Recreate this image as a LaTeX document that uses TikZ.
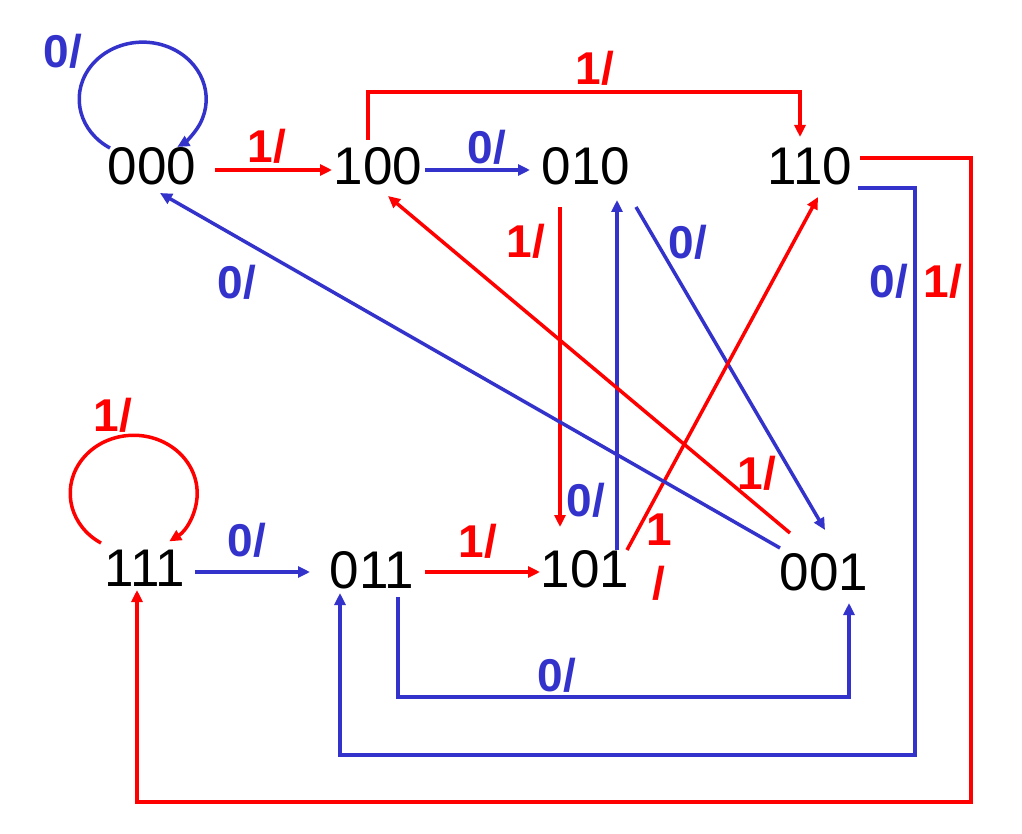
\documentclass[tikz,border=0pt]{standalone}
\usepackage{fontspec}
\setmainfont{Liberation Sans}
\usetikzlibrary{arrows.meta,calc}
\definecolor{redline}{HTML}{FF0000}
\definecolor{blueline}{HTML}{3333CC}

\begin{document}
\begin{tikzpicture}[x=1pt,y=-1pt,
    state/.style={inner sep=0pt,font=\fontsize{53}{60}\selectfont},
    zero/.style={draw=blueline,line width=3.5pt,-{Triangle[length=12pt,width=11pt]}},
    one/.style={draw=redline,line width=3.5pt,-{Triangle[length=12pt,width=11pt]}},
    zerolbl/.style={inner sep=0pt,text=blueline,font=\bfseries\fontsize{46}{54}\selectfont},
    onelbl/.style={inner sep=0pt,text=redline,align=center,font=\bfseries\fontsize{46}{54}\selectfont}]
  \useasboundingbox (0,0) rectangle (1022,834);

  % states
  \node[state] (n000) at (152,166) {000};
  \node[state] (n100) at (378,166) {100};
  \node[state] (n010) at (586,166) {010};
  \node[state] (n110) at (810,166) {110};
  \node[state] (n111) at (145,568) {111};
  \node[state] (n011) at (372,570) {011};
  \node[state] (n101) at (585,569) {101};
  \node[state] (n001) at (824,572) {001};

  % self loops
  \draw[zero] ($(n000)+(-42,-18)$) arc[start angle=121,end angle=417,x radius=63.5,y radius=57];
  \draw[one] ($(n111)+(-44,-25)$) arc[start angle=121,end angle=416,x radius=63.5,y radius=58];

  % straight transitions
  \draw[one]  ($(n000)+(63,4)$) -- ($(n100)+(-46,4)$);
  \draw[zero] ($(n100)+(47,4)$) -- ($(n010)+(-56,4)$);
  \draw[zero] ($(n111)+(50,4)$) -- ($(n011)+(-62,2)$);
  \draw[one]  ($(n011)+(53,2)$) -- ($(n101)+(-45,3)$);
  \draw[one]  ($(n010)+(-26,41)$) -- ($(n101)+(-25,-42)$);
  \draw[zero] ($(n101)+(32,-19)$) -- ($(n010)+(31,34)$);
  \draw[zero] ($(n010)+(50,41)$) -- ($(n001)+(1,-42)$);
  \draw[one]  ($(n101)+(42,-19)$) -- ($(n110)+(8,31)$);
  \draw[one]  ($(n001)+(-34,-39)$) -- ($(n100)+(10,30)$);
  \draw[zero] ($(n001)+(-44,-24)$) -- ($(n000)+(8,27)$);

  % routed transitions
  \draw[one]  ($(n100)+(-10,-26)$) -- ++(0,-48) -| ($(n110)+(-10,-29)$);
  \draw[zero] ($(n110)+(48,22)$) -- ++(57,0) -- ++(0,567) -| ($(n011)+(-32,23)$);
  \draw[one]  ($(n110)+(50,-8)$) -- ++(111,0) -- ++(0,644) -| ($(n111)+(-8,22)$);
  \draw[zero] ($(n011)+(26,27)$) -- ++(0,100) -| ($(n001)+(25,31)$);

  % labels
  \node[zerolbl] (l000) at (63,51) {0/};
  \node[onelbl]  (l000b) at (267,146) {1/};
  \node[zerolbl] (l100) at (487,147) {0/};
  \node[onelbl]  (l100b) at (595,68) {1/};
  \node[onelbl]  (l010) at (526,241) {1/};
  \node[zerolbl] (l010b) at (688,242) {0/};
  \node[zerolbl] (l110) at (889,281) {0/};
  \node[onelbl]  (l110b) at (943,281) {1/};
  \node[zerolbl] (l001) at (237,282) {0/};
  \node[onelbl]  (l111) at (113,415) {1/};
  \node[zerolbl] (l111b) at (247,540) {0/};
  \node[onelbl]  (l011) at (478,541) {1/};
  \node[zerolbl] (l101) at (586,500) {0/};
  \node[onelbl]  (l101b) at (659,557) {1\\/};
  \node[onelbl]  (l001b) at (757,473) {1/};
  \node[zerolbl] (l011b) at (557,675) {0/};
\end{tikzpicture}
\end{document}
